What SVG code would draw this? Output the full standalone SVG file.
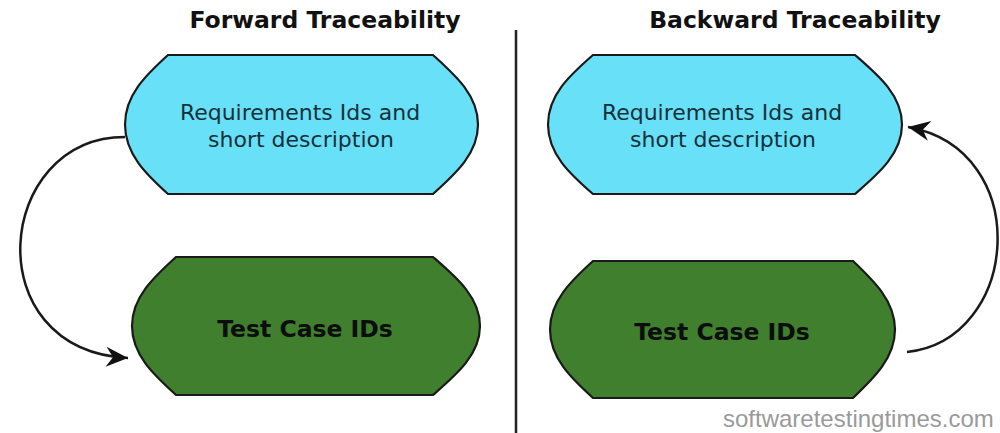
<svg xmlns="http://www.w3.org/2000/svg" width="1000" height="433" viewBox="0 0 1000 433">
<defs>
<style>
.title{font-family:"DejaVu Sans",Verdana,sans-serif;font-weight:bold;font-size:23.5px;fill:#111;text-anchor:middle}
.req{font-family:"DejaVu Sans",Verdana,sans-serif;font-size:22px;fill:#16303a;text-anchor:middle}
.tc{font-family:"DejaVu Sans",Verdana,sans-serif;font-weight:bold;font-size:23.5px;fill:#0d0d0d;text-anchor:middle}
.blue{fill:#68e1f8;stroke:#1a1a1a;stroke-width:2.2}
.green{fill:#3f7f2e;stroke:#1a1a1a;stroke-width:2.2}
.conn{fill:none;stroke:#1a1a1a;stroke-width:2.5}
.wm{font-family:"Liberation Sans",Arial,sans-serif;font-size:24px;fill:#9a9a9a}
</style>
<marker id="arr" viewBox="-24 -12 26 24" refX="0" refY="0" markerWidth="26" markerHeight="24" markerUnits="userSpaceOnUse" orient="auto">
<path d="M-22,-10 L0,0 L-22,10 L-15,0 Z" fill="#111"/>
</marker>
</defs>
<rect width="1000" height="433" fill="#fff"/>
<text class="title" x="325" y="28">Forward Traceability</text>
<text class="title" x="795" y="28">Backward Traceability</text>
<line x1="516" y1="30" x2="516" y2="433" stroke="#222" stroke-width="2.5"/>
<g id="connectors">
<path class="conn" d="M125,137 C-5,137 -25,350 128,358" marker-end="url(#arr)"/>
<path class="conn" d="M907,352 C1020,340 1035,150 908,127" marker-end="url(#arr)"/>
</g>
<g id="fwd-req">
<path class="blue" d="M168,55 L433,55 C455,75 478,95 478,124.5 C478,154 455,174 433,194 L168,194 C146,174 125,154 125,124.5 C125,95 146,75 168,55 Z"/>
<text class="req" x="300" y="120">Requirements Ids and</text>
<text class="req" x="301" y="147">short description</text>
</g>
<g id="fwd-tc">
<path class="green" d="M176,257 L433,257 C456,277 480,297 480,326 C480,355 456,375 433,395 L176,395 C154,375 132,355 132,326 C132,297 154,277 176,257 Z"/>
<text class="tc" x="305" y="337">Test Case IDs</text>
</g>
<g id="bwd-req">
<path class="blue" d="M593,55 L855,55 C878,75 902,95 902,124.5 C902,154 878,174 855,194 L593,194 C570,174 548,154 548,124.5 C548,95 570,75 593,55 Z"/>
<text class="req" x="722" y="120">Requirements Ids and</text>
<text class="req" x="723" y="147">short description</text>
</g>
<g id="bwd-tc">
<path class="green" d="M593,261 L853,261 C874,281 895,301 895,329.5 C895,358 874,378 853,398 L593,398 C571,378 550,358 550,329.5 C550,301 571,281 593,261 Z"/>
<text class="tc" x="722" y="340">Test Case IDs</text>
</g>
<text class="wm" x="723" y="427">softwaretestingtimes.com</text>
</svg>
